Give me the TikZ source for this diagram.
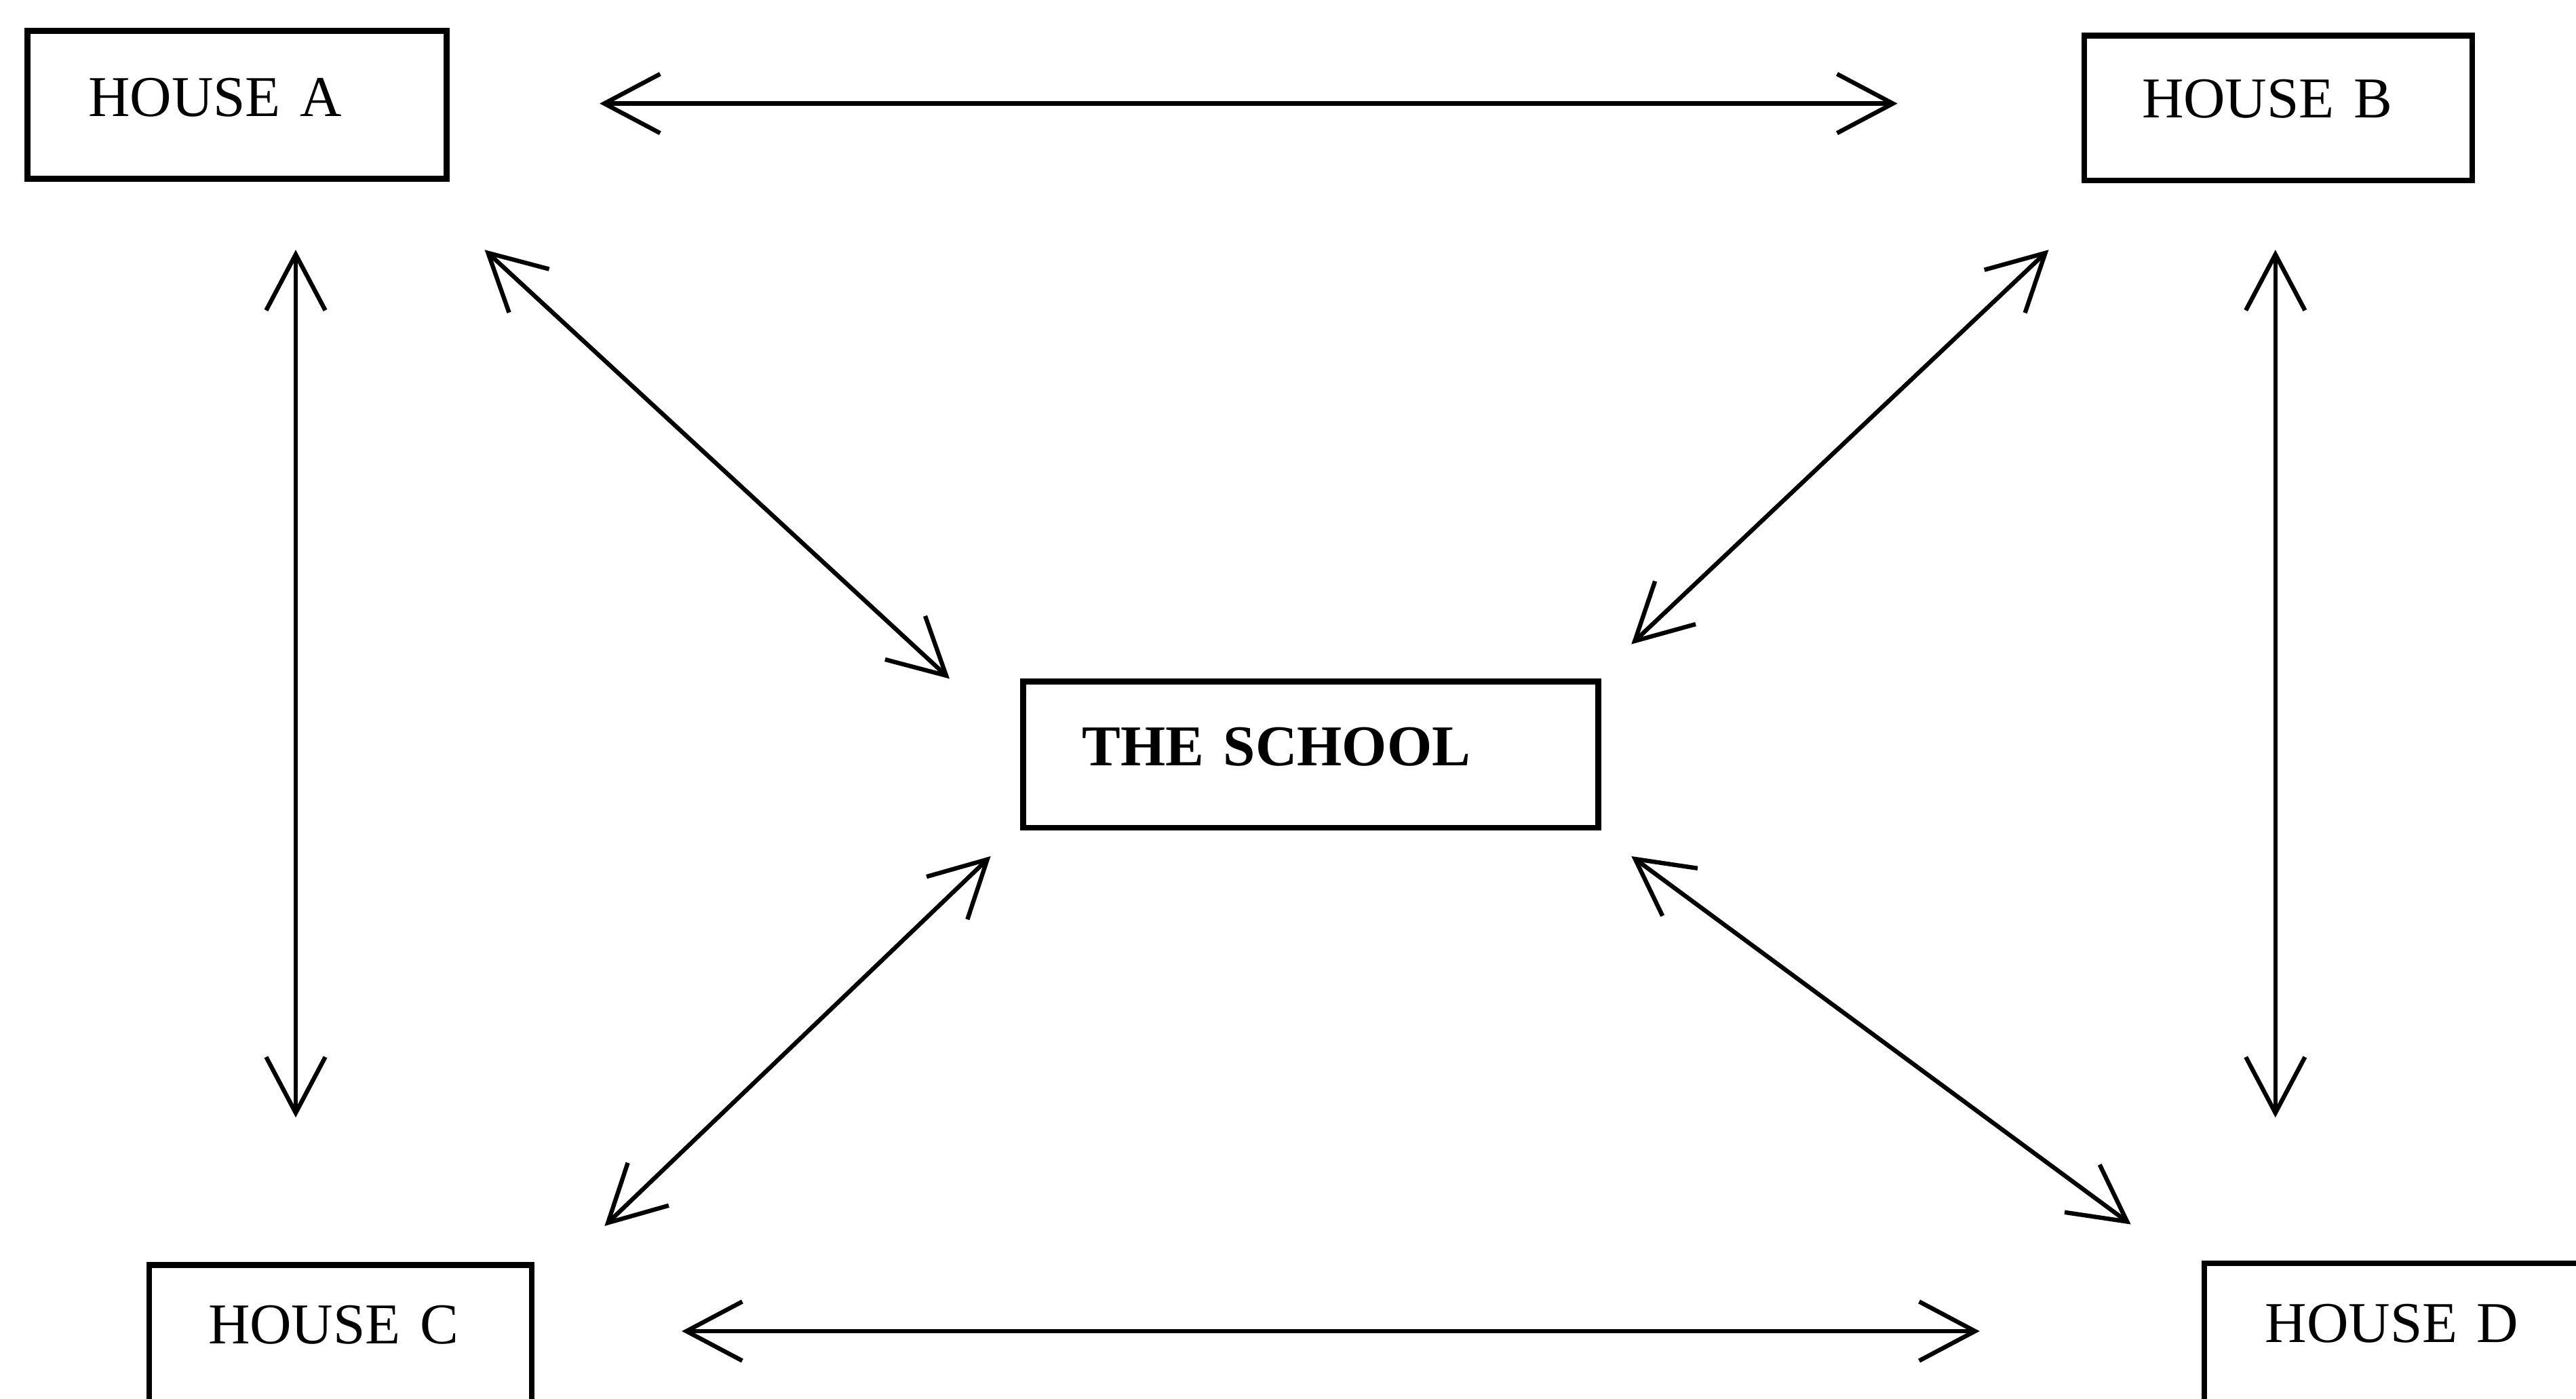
\documentclass[tikz,border=0pt]{standalone}
\usepackage{fontspec}
\setmainfont{Liberation Serif}
\usetikzlibrary{arrows.meta}

\begin{document}
\begin{tikzpicture}[%
      house/.style={rectangle, draw, line width=1pt, anchor=north west, inner ysep=0pt, align=left, font=\fontsize{10}{12}\selectfont},
      >={Straight Barb[length=3.4mm,width=3.6mm]}, line width=0.75pt
    ]
    \useasboundingbox (0,0) rectangle (15.68,-8.51);
    \node [house, inner xsep=0.37cm, text width=1.81cm, text height=0.52cm, text depth=0.38cm] (A) at (0.15,-0.17) {HOUSE A};
    \node [house, inner xsep=0.35cm, text width=1.66cm, text height=0.50cm, text depth=0.38cm] (B) at (12.67,-0.20) {HOUSE B};
    \node [house, inner xsep=0.36cm, text width=2.78cm, text height=0.51cm, text depth=0.38cm] (S) at (6.21,-4.13) {\textbf{THE SCHOOL}};
    \node [house, inner xsep=0.36cm, text width=1.61cm, text height=0.48cm, text depth=0.42cm] (C) at (0.89,-7.68) {HOUSE C};
    \node [house, inner xsep=0.37cm, text width=1.62cm, text height=0.48cm, text depth=0.42cm] (D) at (13.40,-7.67) {HOUSE D};
    % arrow ends
    \coordinate (ab1) at (3.65,-0.63);  \coordinate (ab2) at (11.55,-0.63);
    \coordinate (cd1) at (4.15,-8.10);  \coordinate (cd2) at (12.05,-8.10);
    \coordinate (ac1) at (1.80,-1.52);  \coordinate (ac2) at (1.80,-6.80);
    \coordinate (bd1) at (13.85,-1.52); \coordinate (bd2) at (13.85,-6.80);
    \coordinate (as1) at (2.95,-1.52);  \coordinate (as2) at (5.78,-4.13);
    \coordinate (bs1) at (12.47,-1.52); \coordinate (bs2) at (9.93,-3.92);
    \coordinate (cs1) at (3.68,-7.46);  \coordinate (cs2) at (6.03,-5.21);
    \coordinate (ds1) at (12.97,-7.45); \coordinate (ds2) at (9.93,-5.21);
    \path [draw] (ab1) edge[<->] (ab2)
    (cd1) edge[<->] (cd2)
    (ac1) edge[<->] (ac2)
    (bd1) edge[<->] (bd2)
    (as1) edge[<->] (as2)
    (bs1) edge[<->] (bs2)
    (cs1) edge[<->] (cs2)
    (ds1) edge[<->] (ds2)
    ;
  \end{tikzpicture}
\end{document}
